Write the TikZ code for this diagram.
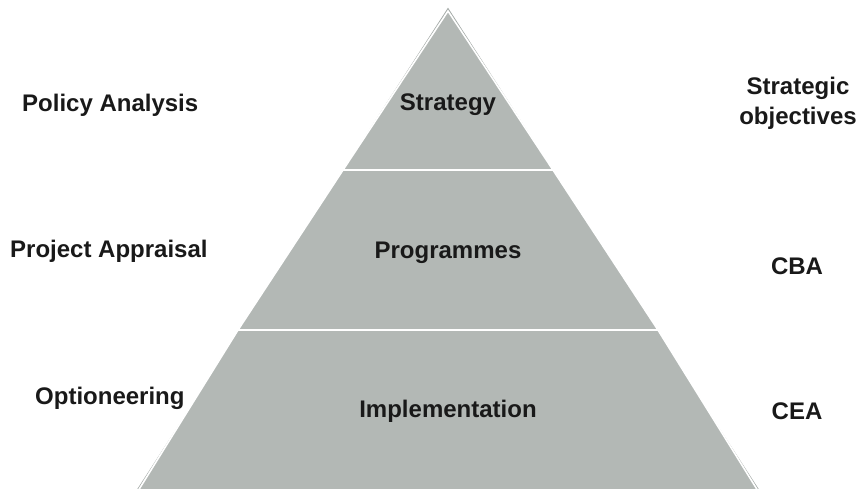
\documentclass[tikz,border=0pt]{standalone}
\usepackage{fontspec}
\setmainfont{Liberation Sans}
\definecolor{pyr}{HTML}{B3B8B5}
\definecolor{pyredge}{HTML}{A4AAA7}
\begin{document}
\begin{tikzpicture}[x=1pt,y=-1pt,
  lbl/.style={font=\bfseries\fontsize{24}{30}\selectfont, inner sep=0pt, text=black!90},
  tier/.style={fill=pyr, draw=white, line width=1.6pt, line join=miter}]
\useasboundingbox (0,0) rectangle (865,488);
\coordinate (apex) at (448,11);
\coordinate (bl) at (133,499);
\coordinate (br) at (763,499);
\coordinate (l1) at (343,170);
\coordinate (r1) at (553,170);
\coordinate (l2) at (238,330);
\coordinate (r2) at (658,330);
\draw[pyredge, line width=3.6pt, line join=miter] (apex) -- (br) -- (bl) -- cycle;
\draw[tier] (apex) -- (r1) -- (l1) -- cycle;
\draw[tier] (l1) -- (r1) -- (r2) -- (l2) -- cycle;
\draw[tier] (l2) -- (r2) -- (br) -- (bl) -- cycle;
\node[lbl] (strat) at (448,105) {Strategy};
\node[lbl] (prog) at (448,253) {Programmes};
\node[lbl] (impl) at (448,411) {Implementation};
\node[lbl, anchor=west] (pa) at (22,105) {Policy Analysis};
\node[lbl, anchor=west] (pr) at (10,251) {Project Appraisal};
\node[lbl, anchor=west] (opt) at (35,398) {Optioneering};
\node[lbl, align=center] (so) at (798,103) {Strategic\\objectives};
\node[lbl] (cba) at (797,266) {CBA};
\node[lbl] (cea) at (797,411) {CEA};
\end{tikzpicture}
\end{document}
